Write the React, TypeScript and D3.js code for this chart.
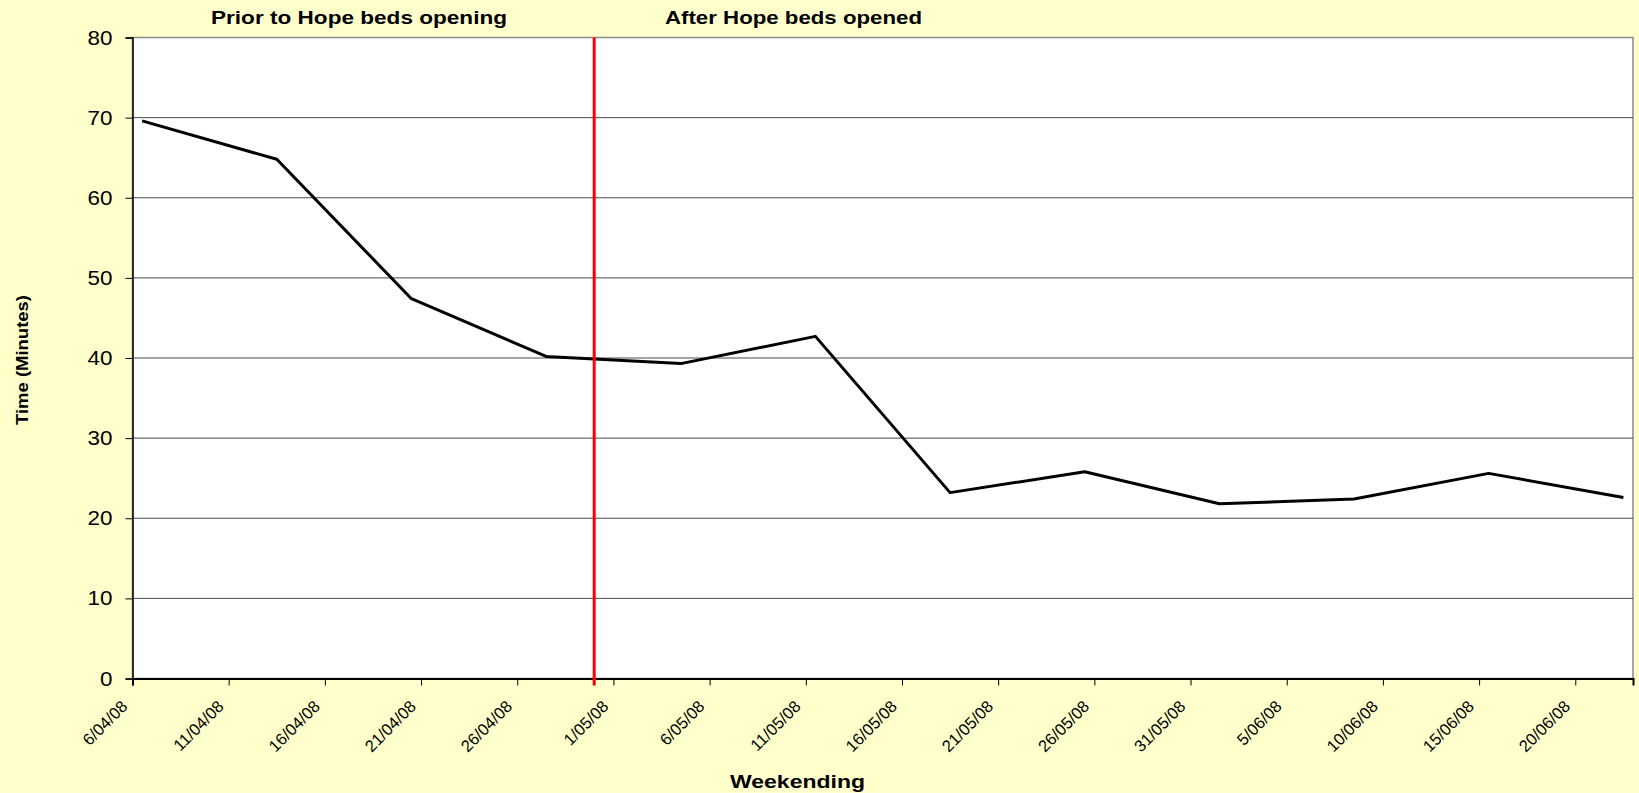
import { useEffect, useRef } from "react";
import * as d3 from "d3";

// weekending dates (Sundays) and average time in minutes
const weekEnding = [
  "2008-04-06", "2008-04-13", "2008-04-20", "2008-04-27",
  "2008-05-04", "2008-05-11", "2008-05-18", "2008-05-25",
  "2008-06-01", "2008-06-08", "2008-06-15", "2008-06-22",
];
const minutes = [69.6, 64.8, 47.4, 40.2, 39.3, 42.7, 23.2, 25.8, 21.8, 22.4, 25.6, 22.6];
const yTicks = [0, 10, 20, 30, 40, 50, 60, 70, 80];
const hopeOpened = "2008-04-30";
const axisStart = "2008-04-06";
const axisEnd = "2008-06-23";

const App = () => {
  const ref = useRef<SVGSVGElement>(null);

  useEffect(() => {
    const W = 1639;
    const H = 793;
    const margin = { top: 37.5, right: 6, bottom: 114.5, left: 132.5 };
    const width = W - margin.left - margin.right;
    const height = H - margin.top - margin.bottom;
    const font = "Arial, 'Liberation Sans', sans-serif";
    const stretch = 1.15; // the old excel picture is a bit wide

    const parse = d3.timeParse("%Y-%m-%d");
    const fmt = (d: Date) => `${d.getDate()}/${d3.timeFormat("%m/%y")(d)}`;

    const data = weekEnding.map((d, i) => ({
      // excel puts points in the middle of the day
      date: d3.timeHour.offset(parse(d) as Date, 12),
      value: minutes[i],
    }));

    const x = d3
      .scaleTime()
      .domain([parse(axisStart) as Date, parse(axisEnd) as Date])
      .range([0, width]);
    const y = d3.scaleLinear().domain([0, 80]).range([height, 0]);

    const svg = d3.select(ref.current);
    svg.selectAll("*").remove();

    svg.append("rect").attr("width", W).attr("height", H).attr("fill", "#FFFFCC");

    const g = svg
      .append("g")
      .attr("transform", "translate(" + margin.left + "," + margin.top + ")");

    g.append("rect")
      .attr("width", width)
      .attr("height", height)
      .attr("fill", "#fff")
      .attr("stroke", "#8a8a8a")
      .attr("stroke-width", 1.5);

    // gridlines
    g.selectAll(".grid")
      .data(yTicks.slice(1, -1))
      .enter()
      .append("line")
      .attr("x1", 0)
      .attr("x2", width)
      .attr("y1", (d) => y(d))
      .attr("y2", (d) => y(d))
      .attr("stroke", "#4a4a4a")
      .attr("stroke-width", 1);

    // y axis
    const yAxis = g
      .append("g")
      .call(d3.axisLeft(y).tickValues(yTicks).tickSize(7).tickFormat(() => ""));
    yAxis.select(".domain").attr("stroke", "#000").attr("stroke-width", 1.5);

    g.selectAll(".ylab")
      .data(yTicks)
      .enter()
      .append("text")
      .attr("transform", (d) => `translate(-20,${y(d) + 7}) scale(${stretch},1)`)
      .attr("text-anchor", "end")
      .attr("font-family", font)
      .attr("font-size", 19.5)
      .attr("fill", "#000")
      .text((d) => d);

    // x axis
    const xTicks = d3.timeDay.range(parse(axisStart) as Date, parse(axisEnd) as Date, 5);
    const xAxis = g
      .append("g")
      .attr("transform", "translate(0," + height + ")")
      .call(d3.axisBottom(x).tickValues(xTicks).tickSize(7).tickFormat(() => ""));
    xAxis.select(".domain").attr("stroke", "#000").attr("stroke-width", 2);

    g.selectAll(".xlab")
      .data(xTicks)
      .enter()
      .append("text")
      .attr("transform", (d) => `translate(${x(d) - 4},${height + 29}) rotate(-45)`)
      .attr("text-anchor", "end")
      .attr("font-family", font)
      .attr("font-size", 16.5)
      .attr("fill", "#000")
      .text((d) => fmt(d));

    // line
    const line = d3
      .line<{ date: Date; value: number }>()
      .x((d) => x(d.date))
      .y((d) => y(d.value));

    g.append("path")
      .datum(data)
      .attr("d", line)
      .attr("fill", "none")
      .attr("stroke", "#000")
      .attr("stroke-width", 3)
      .attr("stroke-linejoin", "round");

    // opening marker
    const xo = x(parse(hopeOpened) as Date);
    g.append("line")
      .attr("x1", xo)
      .attr("x2", xo)
      .attr("y1", 0)
      .attr("y2", height + 7)
      .attr("stroke", "#FF0000")
      .attr("stroke-width", 3);

    // labels
    const bold = (t: string, tx: number, ty: number, size: number, len: number, rot = 0) =>
      svg
        .append("text")
        .attr("transform", `translate(${tx},${ty}) rotate(${rot})`)
        .attr("text-anchor", "middle")
        .attr("font-family", font)
        .attr("font-weight", "bold")
        .attr("font-size", size)
        .attr("textLength", len)
        .attr("lengthAdjust", "spacingAndGlyphs")
        .attr("fill", "#000")
        .text(t);

    bold("Prior to Hope beds opening", 359, 24, 18, 296);
    bold("After Hope beds opened", 793.5, 24, 18, 257);
    bold("Time (Minutes)", 28, 360, 16, 130, -90);
    bold("Weekending", 797.5, 788, 18, 135);
  }, []);

  return (
    <svg
      ref={ref}
      width={1639}
      height={793}
      style={{ position: "absolute", left: 0, top: 0 }}
    />
  );
};

export default App;
